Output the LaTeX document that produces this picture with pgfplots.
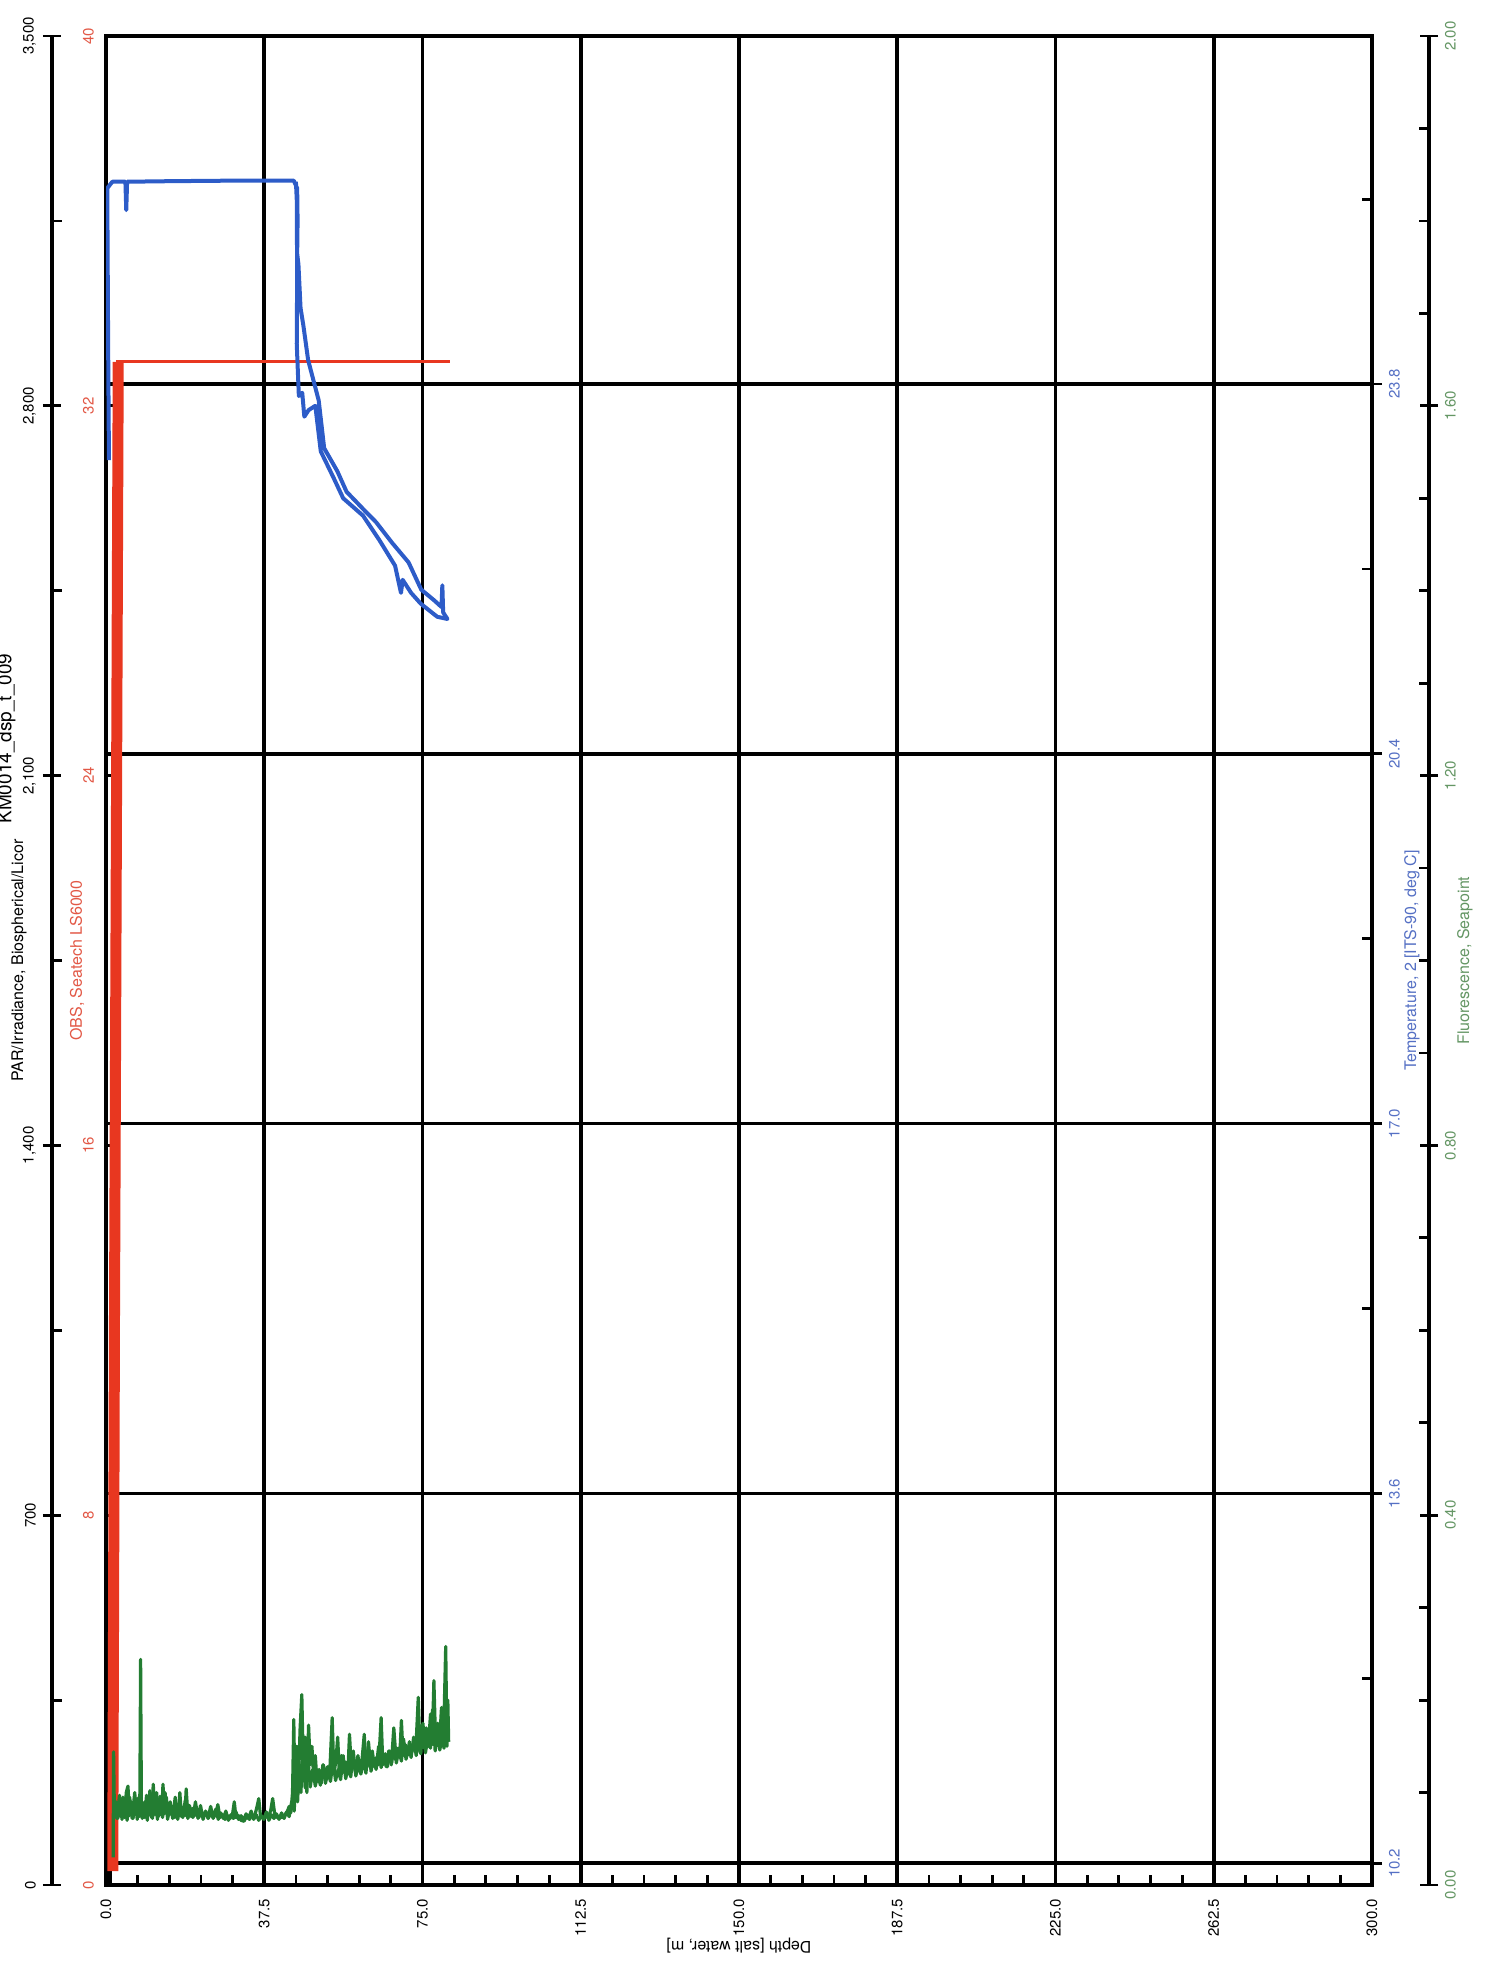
\documentclass[border=0pt]{standalone}
\usepackage{fontspec}
\setmainfont{TeX Gyre Heros}
\usepackage{pgfplots}
\pgfplotsset{compat=1.18}
\definecolor{obsline}{RGB}{232,55,32}
\definecolor{obslabel}{RGB}{226,88,70}
\definecolor{templine}{RGB}{45,92,200}
\definecolor{templabel}{RGB}{85,112,196}
\definecolor{fluline}{RGB}{35,125,50}
\definecolor{flulabel}{RGB}{100,150,100}
\tikzset{
  tlf/.style={font=\fontsize{7.5}{9}\selectfont},
  ttf/.style={font=\fontsize{8}{10}\selectfont},
}
\begin{document}
\begin{tikzpicture}
\useasboundingbox (0,0) rectangle (748.5pt,-982.5pt);
\pgfplotsset{
  base/.style={scale only axis, width=633pt, height=924.5pt, at={(53pt,-18pt)}, anchor=north west,
    xmin=0, xmax=300},
}
% ---------- main frame: depth axis + vertical grid ----------
\begin{axis}[base,
  ymin=0, ymax=3500,
  xtick={0,37.5,75,112.5,150,187.5,225,262.5,300},
  xticklabels={0.0,37.5,75.0,112.5,150.0,187.5,225.0,262.5,300.0},
  minor x tick num=4,
  ytick=\empty,
  xtick pos=left,
  tick align=inside,
  major tick length=5pt, minor tick length=5pt,
  xmajorgrids,
  major grid style={black, line width=1.8pt},
  axis line style={black, line width=1.8pt},
  tick style={black, line width=1.4pt},
  xticklabel style={tlf, rotate=90, anchor=east},
  xticklabel shift=3.5pt,
  xlabel={Depth [salt water, m]},
  every axis x label/.style={at={(axis description cs:0.5,-0.033)}, anchor=center, rotate=180, ttf},
]
\addplot[black, line width=3pt] coordinates {(0.8,0) (0.8,55)};
\end{axis}
% ---------- temperature axis (right) + horizontal grid ----------
\begin{axis}[base, hide x axis, axis y line*=right,
  ymin=10, ymax=27,
  ytick={10.2,13.6,17,20.4,23.8},
  yticklabels={10.2,13.6,17.0,20.4,23.8},
  ymajorgrids,
  major grid style={black, line width=1.8pt},
  axis line style={black, line width=1.8pt},
  tick style={black, line width=1.4pt},
  tick align=center, major tick length=10pt,
  extra y ticks={11.9,15.3,18.7,22.1,25.5}, extra y tick labels={},
  extra y tick style={grid=none, tick align=inside, major tick length=5pt},
  yticklabel style={tlf, rotate=90, anchor=north, text=templabel},
  ylabel={Temperature, 2 [ITS-90, deg C]},
  every axis y label/.style={at={(axis description cs:1.0316,0.5)}, rotate=90, anchor=center, text=templabel, ttf},
]
\end{axis}
% ---------- PAR axis (left, offset) ----------
\begin{axis}[base, at={(26pt,-18pt)}, hide x axis, axis y line*=left,
  ymin=0, ymax=3500,
  ytick={0,700,1400,2100,2800,3500},
  yticklabels={0,700,{1,400},{2,100},{2,800},{3,500}},
  axis line style={black, line width=1.8pt},
  tick style={black, line width=1.4pt},
  tick align=center, major tick length=9pt,
  extra y ticks={350,1050,1750,2450,3150}, extra y tick labels={},
  extra y tick style={grid=none, tick align=inside, major tick length=5pt},
  yticklabel style={tlf, rotate=90, anchor=south},
  ylabel={PAR/Irradiance, Biospherical/Licor},
  every axis y label/.style={at={(axis description cs:-0.0261,0.5)}, rotate=90, anchor=center, ttf},
]
\end{axis}
% ---------- OBS axis (left, on frame) + red data ----------
\begin{axis}[base, hide x axis, axis y line*=left,
  ymin=0, ymax=40,
  ytick={0,8,16,24,32,40},
  yticklabels={0,8,16,24,32,40},
  axis line style={black, line width=1.8pt},
  tick style={black, line width=1.4pt},
  tick align=inside, major tick length=6pt,
  yticklabel style={tlf, rotate=90, anchor=south, text=obslabel},
  yticklabel shift=2.5pt,
  ylabel={OBS, Seatech LS6000},
  every axis y label/.style={at={(axis description cs:-0.0229,0.5)}, rotate=90, anchor=center, text=obslabel, ttf},
]
\addplot[obsline, line width=5.5pt] coordinates {(1.6,0.3) (2.0,12) (2.9,32.95)};
\addplot[obsline, line width=1.6pt] coordinates {(2.3,32.95) (40,32.95) (81.4,32.95)};
\end{axis}
% ---------- Fluorescence axis (right, offset) ----------
\begin{axis}[base, at={(714.5pt,-18pt)}, anchor=north east, hide x axis, axis y line*=right,
  ymin=0, ymax=2,
  ytick={0,0.4,0.8,1.2,1.6,2.0},
  yticklabels={0.00,0.40,0.80,1.20,1.60,2.00},
  axis line style={black, line width=1.8pt},
  tick style={black, line width=1.4pt},
  tick align=center, major tick length=9pt,
  extra y ticks={0.1,0.2,0.3,0.5,0.6,0.7,0.9,1.0,1.1,1.3,1.4,1.5,1.7,1.8,1.9}, extra y tick labels={},
  extra y tick style={grid=none, tick align=inside, major tick length=5pt},
  yticklabel style={tlf, rotate=90, anchor=north, text=flulabel},
  ylabel={Fluorescence, Seapoint},
  every axis y label/.style={at={(axis description cs:1.0284,0.5)}, rotate=90, anchor=center, text=flulabel, ttf},
]
\end{axis}
% ---------- green data ----------
\begin{axis}[base, hide axis, ymin=0, ymax=2]
\addplot[fluline, line width=1.6pt, line join=round] coordinates {
(1.7,0.03) (1.8,0.144) (2.0,0.075) (2.4,0.09) (2.8,0.072) (3.2,0.085) (3.6,0.074) (4.0,0.095)
(4.4,0.073) (4.8,0.1) (5.2,0.107) (5.6,0.075) (6.0,0.09) (6.4,0.072) (6.8,0.083) (7.2,0.076)
(7.6,0.094) (8.0,0.074) (8.2,0.244) (8.4,0.075) (8.8,0.088) (9.2,0.073) (9.6,0.097) (10.0,0.075)
(10.4,0.09) (10.8,0.073) (11.2,0.109) (11.6,0.076) (12.0,0.1) (12.4,0.074) (12.8,0.092) (13.2,0.075)
(13.5,0.109) (13.9,0.077) (14.3,0.095) (14.7,0.074) (15.1,0.089) (15.5,0.076) (15.9,0.082) (16.3,0.073)
(16.7,0.088) (17.1,0.075) (17.5,0.1) (17.9,0.074) (18.3,0.084) (18.7,0.075) (19.0,0.104) (19.4,0.076)
(19.8,0.086) (20.2,0.074) (20.6,0.083) (21.0,0.075) (21.5,0.081) (22.0,0.073) (22.5,0.079) (23.0,0.074)
(23.6,0.078) (24.2,0.072) (24.8,0.077) (25.4,0.073) (26.0,0.076) (26.5,0.087) (27.0,0.073) (27.6,0.076)
(28.2,0.071) (28.8,0.075) (29.4,0.072) (30.0,0.077) (30.4,0.09) (30.8,0.073) (31.4,0.075) (32.0,0.070)
(32.7,0.069) (33.3,0.074) (34.0,0.071) (34.6,0.076) (35.2,0.074) (35.8,0.085) (36.2,0.0935) (36.6,0.075)
(37.2,0.072) (37.8,0.074) (38.4,0.073) (39.0,0.08) (39.5,0.0935) (40.0,0.076) (40.6,0.073) (41.2,0.074)
(41.8,0.073) (42.4,0.076) (43.0,0.08) (43.4,0.085) (43.8,0.078) (44.2,0.1) (44.5,0.179) (44.8,0.09)
(45.2,0.15) (45.6,0.11) (46.0,0.17) (46.4,0.206) (46.8,0.12) (47.2,0.16) (47.6,0.1) (48.0,0.173)
(48.4,0.13) (48.8,0.15) (49.2,0.118) (49.6,0.14) (50.0,0.112) (50.5,0.125) (51.0,0.11) (51.5,0.13)
(52.0,0.116) (52.5,0.128) (53.0,0.12) (53.6,0.181) (54.0,0.12) (54.5,0.135) (54.9,0.16) (55.3,0.12)
(55.8,0.14) (56.3,0.122) (56.8,0.133) (57.3,0.12) (57.7,0.163) (58.2,0.122) (58.7,0.135) (59.2,0.125)
(59.7,0.14) (60.2,0.123) (60.7,0.137) (61.2,0.163) (61.6,0.125) (62.1,0.14) (62.6,0.127) (63.1,0.145)
(63.6,0.128) (64.1,0.138) (64.6,0.13) (65.2,0.181) (65.6,0.13) (66.2,0.142) (66.7,0.128) (67.2,0.145)
(67.7,0.132) (68.2,0.15) (68.7,0.135) (69.2,0.148) (69.6,0.138) (70.0,0.178) (70.4,0.14) (70.9,0.152)
(71.4,0.14) (71.9,0.155) (72.4,0.143) (72.9,0.15) (73.4,0.145) (74.0,0.203) (74.4,0.146) (74.9,0.165)
(75.4,0.148) (75.9,0.17) (76.4,0.15) (76.9,0.185) (77.3,0.152) (77.7,0.221) (78.1,0.155) (78.6,0.175)
(79.0,0.15) (79.5,0.192) (80.0,0.16) (80.5,0.258) (80.8,0.15) (81.0,0.2) (81.2,0.155)
};
\addplot[fluline, line width=1.6pt, line join=round] coordinates {
(81.2,0.155) (80.6,0.17) (80.1,0.148) (79.6,0.16) (79.1,0.146) (78.5,0.165) (78.0,0.145) (77.4,0.19)
(76.9,0.148) (76.3,0.16) (75.7,0.143) (75.1,0.175) (74.6,0.142) (74.0,0.155) (73.5,0.14) (72.9,0.16)
(72.3,0.138) (71.7,0.15) (71.1,0.136) (70.5,0.158) (70.0,0.134) (69.4,0.147) (68.8,0.132) (68.2,0.17)
(67.6,0.13) (67.0,0.145) (66.4,0.128) (65.8,0.14) (65.2,0.127) (64.6,0.15) (64.0,0.125) (63.4,0.137)
(62.8,0.123) (62.2,0.155) (61.6,0.121) (61.0,0.135) (60.4,0.12) (59.8,0.13) (59.2,0.118) (58.6,0.145)
(58.0,0.117) (57.4,0.128) (56.8,0.115) (56.2,0.14) (55.6,0.114) (55.0,0.125) (54.4,0.113) (53.8,0.135)
(53.2,0.112) (52.6,0.122) (52.0,0.11) (51.4,0.13) (50.8,0.108) (50.2,0.12) (49.6,0.107) (49.0,0.125)
(48.4,0.106) (47.8,0.14) (47.2,0.105) (46.6,0.15) (46.2,0.1) (45.8,0.13) (45.4,0.09) (45.0,0.12)
(44.6,0.08) (44.0,0.09) (43.4,0.074) (42.8,0.079) (42.2,0.072) (41.6,0.078) (41.0,0.071) (40.4,0.077)
(39.8,0.072) (39.2,0.076) (38.6,0.07) (38.0,0.079) (37.4,0.071) (36.8,0.075) (36.2,0.07) (35.6,0.076)
(35.0,0.071) (34.4,0.08) (33.8,0.072) (33.2,0.077) (32.6,0.07) (32.0,0.075) (31.4,0.071) (30.8,0.079)
(30.2,0.072) (29.6,0.076) (29.0,0.07) (28.4,0.08) (27.8,0.072) (27.2,0.078) (26.6,0.071) (26.0,0.082)
(25.4,0.072) (24.8,0.085) (24.2,0.073) (23.6,0.08) (23.0,0.071) (22.4,0.086) (21.8,0.072) (21.2,0.09)
(20.6,0.073) (20.0,0.083) (19.4,0.072) (18.8,0.092) (18.2,0.073) (17.6,0.087) (17.0,0.071) (16.4,0.095)
(15.8,0.072) (15.2,0.09) (14.6,0.071) (14.0,0.1) (13.4,0.073) (12.8,0.096) (12.2,0.071) (11.6,0.093)
(11.0,0.072) (10.4,0.102) (9.8,0.07) (9.2,0.09) (8.6,0.072) (8.0,0.098) (7.4,0.071) (6.8,0.1)
(6.2,0.072) (5.6,0.095) (5.0,0.07) (4.4,0.09) (3.8,0.071) (3.2,0.097) (2.6,0.072) (2.1,0.08)
};
\end{axis}
% ---------- blue data ----------
\begin{axis}[base, hide axis, ymin=10, ymax=27]
\addplot[templine, line width=2pt, line join=round] coordinates {
(0.7,23.1) (0.5,24.2) (0.3,25.6) (1.5,25.66) (4.6,25.66) (4.8,25.4) (5.0,25.66) (15,25.665)
(30,25.67) (44.5,25.67) (45.3,25.6) (45.4,25.3) (45.3,25.0) (45.6,24.9) (46.1,24.5) (46.8,24.33)
(47.9,24.02) (50.4,23.65) (51.7,23.21) (54.8,23.0) (57.0,22.81) (61.7,22.62) (64.0,22.53) (67.8,22.34)
(71.7,22.16) (74.7,21.91) (77.8,21.81) (79.5,21.75) (79.7,21.95) (79.9,21.7) (80.9,21.64) (78.5,21.66)
(74.6,21.78) (72.3,21.88) (70.3,22.0) (69.9,21.88) (68.5,22.13) (64.7,22.37) (60.9,22.59) (56.2,22.75)
(53.9,22.94) (50.9,23.18) (49.6,23.6) (48.0,23.56) (47.0,23.5) (46.5,23.72) (45.7,23.69) (45.2,24.17)
(45.3,24.8) (45.2,25.5) (45.0,25.66)
};
\end{axis}
\node[rotate=90, anchor=south west, inner sep=0pt, font=\fontsize{9.5}{11}\selectfont] at (8pt,-412pt) {KM0014\_dsp\_t\_009};
\end{tikzpicture}
\end{document}
